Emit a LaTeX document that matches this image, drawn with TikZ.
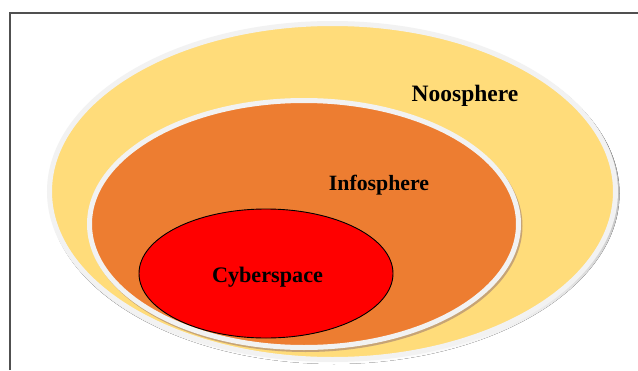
\documentclass[tikz,border=0pt]{standalone}
\usepackage{fontspec}
\setmainfont{Liberation Serif}
\definecolor{noo}{HTML}{FFDC7A}
\definecolor{info}{HTML}{ED7D31}
\definecolor{rim}{HTML}{F2F2F2}
\definecolor{shade}{HTML}{BDAE86}
\definecolor{frame}{HTML}{505050}
\tikzset{
  lbl/.style={font=\bfseries, anchor=base, inner sep=0pt},
}
\begin{document}
\begin{tikzpicture}[x=1pt,y=-1pt]
\useasboundingbox (0,0) rectangle (638,370);
\fill[white] (0,0) rectangle (638,370);
% frame
\draw[frame, line width=1.3pt] (10,370) -- (10,13) -- (638,13);
% Noosphere
\fill[shade] (334,193.5) ellipse [x radius=285.5, y radius=170.5];
\filldraw[fill=noo, draw=rim, line width=5pt] (332.5,191.5) ellipse [x radius=283, y radius=168];
% Infosphere
\fill[shade!80!info] (305.5,226) ellipse [x radius=217, y radius=126];
\filldraw[fill=info, draw=rim, line width=5pt] (304,224) ellipse [x radius=214.5, y radius=123.5];
% Cyberspace
\filldraw[fill=red, draw=black, line width=0.9pt] (266,273.5) ellipse [x radius=127, y radius=64.5];
% labels
\node[lbl, font=\fontsize{23.5}{26}\bfseries\selectfont] (noos) at (465,101) {Noosphere};
\node[lbl, font=\fontsize{21.8}{24}\bfseries\selectfont] (info) at (379,190) {Infosphere};
\node[lbl, font=\fontsize{22.2}{24}\bfseries\selectfont] (cyb) at (267.5,282) {Cyberspace};
\end{tikzpicture}
\end{document}
